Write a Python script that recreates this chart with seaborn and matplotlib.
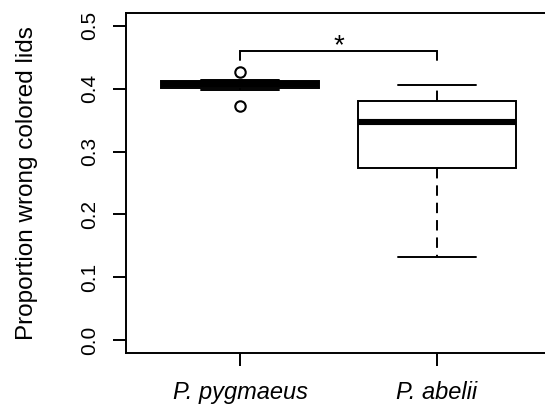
import pandas as pd
import matplotlib
matplotlib.use("Agg")
import matplotlib.pyplot as plt
import seaborn as sns

# --- data ---
species = ["P. pygmaeus", "P. abelii"]
pygmaeus_vals = [0.373, 0.397, 0.4015, 0.405, 0.407, 0.409, 0.4115, 0.414, 0.427]
abelii_vals = [0.132, 0.25, 0.274, 0.31, 0.347, 0.36, 0.381, 0.395, 0.405]
y_ticks = [0.0, 0.1, 0.2, 0.3, 0.4, 0.5]
bracket_low, bracket_high = 0.445, 0.459
signif_label = "*"

df = pd.DataFrame({
    "species": [species[0]] * len(pygmaeus_vals) + [species[1]] * len(abelii_vals),
    "prop": pygmaeus_vals + abelii_vals,
})

sns.set_style("ticks")
plt.rcParams["font.family"] = ["Liberation Sans", "DejaVu Sans"]
plt.rcParams["lines.scale_dashes"] = False
plt.rcParams["text.color"] = "black"
plt.rcParams["xtick.labelcolor"] = "black"
plt.rcParams["ytick.labelcolor"] = "black"
plt.rcParams["axes.labelcolor"] = "black"

fig = plt.figure(figsize=(5.45, 4.07), dpi=100)
ax = fig.add_axes([0.2312, 0.1327, 0.7798, 0.8354])

lw = 1.4
sns.boxplot(data=df, x="species", y="prop", order=species, ax=ax,
            width=0.8, color="white", linecolor="black", linewidth=lw,
            whis=1.5,
            medianprops=dict(linewidth=4.4, color="black", solid_capstyle="butt"),
            whiskerprops=dict(linestyle=(0, (7.5, 5)), linewidth=lw, color="black"),
            capprops=dict(linewidth=lw, color="black"),
            flierprops=dict(marker="o", markersize=7.5, markerfacecolor="none",
                            markeredgecolor="black", markeredgewidth=1.5))

# significance bracket
ax.plot([0, 0, 1, 1], [bracket_low, bracket_high, bracket_high, bracket_low],
        color="black", lw=lw, solid_joinstyle="miter")
ax.text(0.50, bracket_high - 0.012, signif_label, ha="center", va="bottom", fontsize=20)

ax.set_xlim(-0.58, 1.58)
ax.set_ylim(-0.02, 0.52)
ax.set_yticks(y_ticks)
ax.set_yticklabels([f"{v:.1f}" for v in y_ticks], rotation=90, va="center", fontsize=15)
ax.set_xticks([0, 1])
ax.set_xticklabels(species, fontsize=17, fontstyle="italic")
ax.tick_params(axis="both", direction="out", length=9.4, width=lw, color="black")
ax.tick_params(axis="y", pad=10)
ax.tick_params(axis="x", pad=11)

ax.set_xlabel("")
ax.set_ylabel("Proportion wrong colored lids", fontsize=17.5, va="center")
ax.yaxis.set_label_coords(-0.233, 0.5)

for side in ["left", "right", "top", "bottom"]:
    ax.spines[side].set_visible(True)
    ax.spines[side].set_linewidth(lw)
    ax.spines[side].set_color("black")

fig.savefig("out.png", dpi=100)
